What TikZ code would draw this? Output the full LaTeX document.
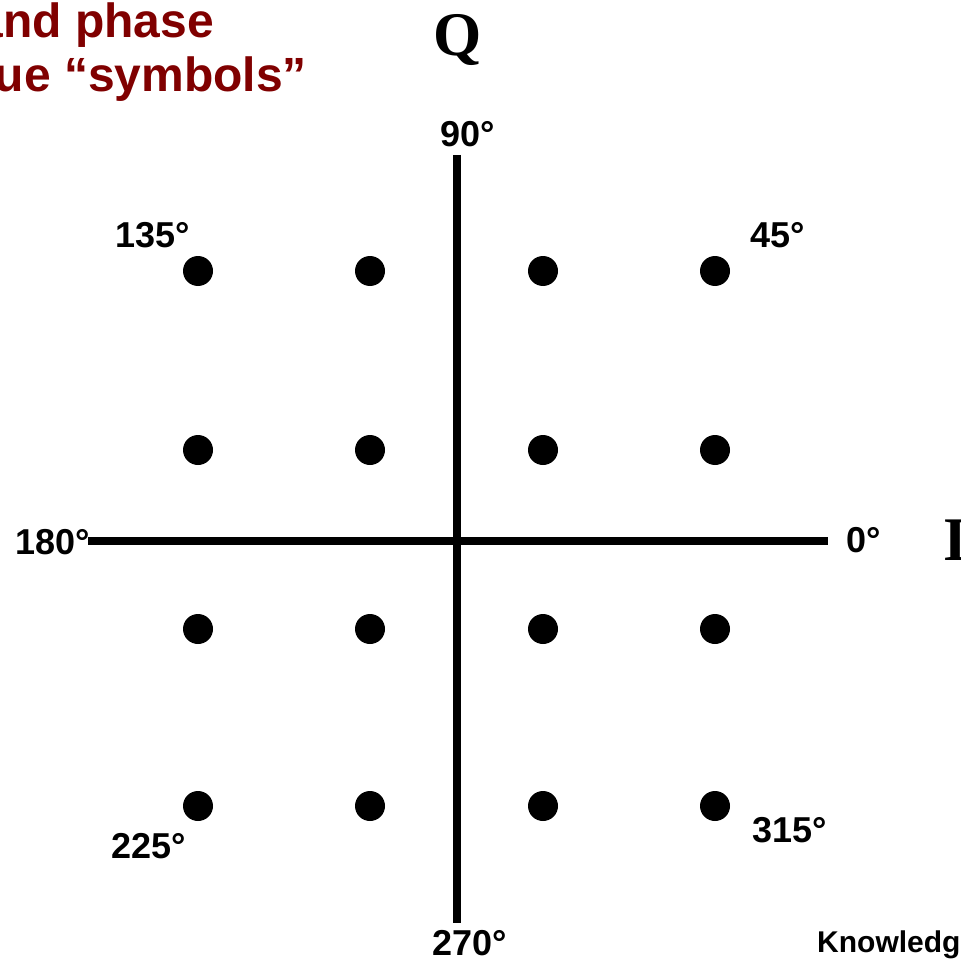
\documentclass[tikz,border=0pt]{standalone}
\usepackage{fontspec}
\setmainfont{Liberation Sans}
\newfontfamily\axisfont{Liberation Serif}
\definecolor{titlered}{RGB}{128,0,0}
\tikzset{
  deg/.style={font=\bfseries\fontsize{36}{40}\selectfont, inner sep=0pt},
  symdot/.style={circle, fill=black, minimum size=30pt, inner sep=0pt},
  axis/.style={line width=7.5pt},
  axislabel/.style={font=\axisfont\bfseries\fontsize{62}{70}\selectfont, inner sep=0pt},
}
\begin{document}
\begin{tikzpicture}[x=1pt,y=-1pt]
  \useasboundingbox (0,0) rectangle (961,960);
  \clip (0,0) rectangle (961,960);
  % title, cut off at the left
  \node[anchor=base east, inner sep=0pt, text=titlered,
    font=\bfseries\fontsize{48}{54}\selectfont] (title1) at (214,38) {and phase};
  \node[anchor=base east, inner sep=0pt, text=titlered,
    font=\bfseries\fontsize{48}{54}\selectfont] (title2) at (307,92) {unique “symbols”};
  % axes
  \coordinate (top) at (457,155);
  \coordinate (bottom) at (457,923);
  \coordinate (left) at (88,541);
  \coordinate (right) at (828,541);
  \draw[axis] (top) -- (bottom);
  \draw[axis] (left) -- (right);
  \node[axislabel, anchor=base] (qlabel) at (458,56) {Q};
  \node[axislabel, anchor=base west] (ilabel) at (943,560) {I};
  % 16 symbols
  \foreach \x [count=\i] in {198,370,543,715}
    \foreach \y [count=\j] in {271,450,629,806}
      \node[symdot] (s\i\j) at (\x,\y) {};
  % phase angles
  \node[deg] (l90) at (468,134) {90°};
  \node[deg] (l45) at (778,235) {45°};
  \node[deg] (l135) at (153,235) {135°};
  \node[deg] (l180) at (53,542) {180°};
  \node[deg] (l0) at (864,540) {0°};
  \node[deg] (l225) at (149,846) {225°};
  \node[deg] (l315) at (790,830) {315°};
  \node[deg] (l270) at (470,943) {270°};
  \node[anchor=base west, inner sep=0pt, font=\bfseries\fontsize{30}{34}\selectfont]
    (credit) at (817,952) {Knowledge};
\end{tikzpicture}
\end{document}
